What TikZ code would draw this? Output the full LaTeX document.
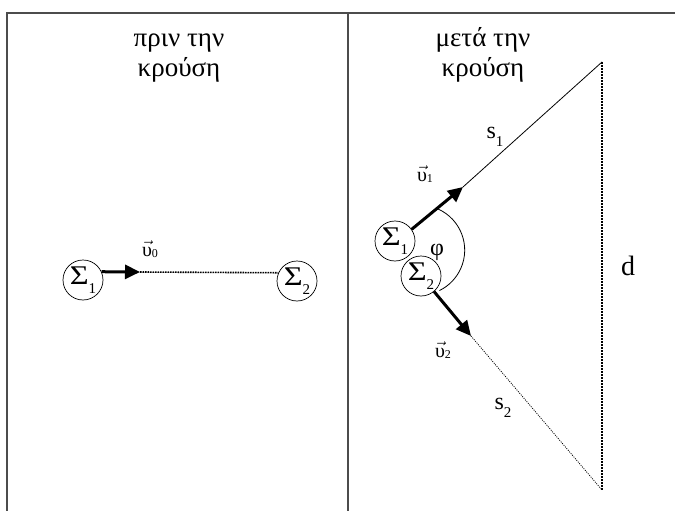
\documentclass[tikz,border=0pt]{standalone}
\usepackage{fontspec}
\setmainfont{Liberation Serif}
\usetikzlibrary{arrows.meta}
\tikzset{
  frame/.style={line width=1.3pt, draw=black!70},
  ball/.style={circle, draw, line width=0.7pt, minimum size=40pt, inner sep=0pt, font=\fontsize{27}{27}\selectfont},
  vel/.style={line width=3pt, -{Triangle[length=15pt,width=14pt]}},
  fine/.style={line width=0.8pt},
  dotline/.style={line width=1.6pt, dash pattern=on 1.6pt off 0.9pt},
  thindot/.style={line width=0.8pt, dash pattern=on 1pt off 1.2pt},
  thickdot/.style={line width=2pt, dash pattern=on 2pt off 1pt},
  title/.style={anchor=base, inner sep=0pt, font=\fontsize{27}{30}\selectfont},
  lab/.style={inner sep=0pt, font=\fontsize{20}{20}\selectfont},
  biglab/.style={inner sep=0pt, font=\fontsize{24}{24}\selectfont}
}
\newcommand{\sub}[1]{\raisebox{-0.33em}{\fontsize{15}{15}\selectfont #1}}
\newcommand{\Sig}{\scalebox{1.2}[1]{Σ}}
\newcommand{\vup}{\(\vec{\mbox{υ}}\)}
\newcommand{\vsub}[1]{\raisebox{-0.05em}{\fontsize{12}{12}\selectfont #1}}
\begin{document}
\begin{tikzpicture}[x=1pt,y=-1pt]
\useasboundingbox (0,0) rectangle (675,511);
% frame
\coordinate (tl) at (7,13);
\coordinate (tr) at (675,13);
\coordinate (bl) at (7,511);
\coordinate (tm) at (348,13);
\coordinate (bm) at (348,511);
\draw[frame] (bl) -- (tl) -- (tr);
\draw[frame] (tm) -- (bm);
% titles
\node[title] (t1a) at (179,47) {πριν την};
\node[title] (t1b) at (179,77) {κρούση};
\node[title] (t2a) at (483,47) {μετά την};
\node[title] (t2b) at (483,77) {κρούση};
% left panel
\node[ball] (L1) at (83,280) {\Sig\sub{1}};
\node[ball] (L2) at (297,281) {\Sig\sub{2}};
\coordinate (v0tip) at (140,272);
\draw[vel] (L1.24) -- (v0tip);
\draw[dotline] (v0tip) -- (L2.156);
\node[lab, anchor=base] (v0) at (150,256) {\vup\vsub{0}};
% right panel
\node[ball] (R1) at (395,241) {\Sig\sub{1}};
\node[ball] (R2) at (421,276) {\Sig\sub{2}};
\coordinate (tip1) at (463,187);
\coordinate (apex) at (602,62);
\coordinate (bot) at (602,490);
\coordinate (tip2) at (471,336);
\draw[vel] (R1.35) -- (tip1);
\draw[fine] (tip1) -- (apex);
\draw[thickdot] (apex) -- (bot);
\draw[vel] (R2.-50) -- (tip2);
\draw[thindot] (tip2) -- (bot);
\coordinate (a1) at (438,209);
\draw[fine] (a1) arc[start angle=-66, end angle=64, radius=45];
\node[lab, anchor=base] (v1) at (425,181) {\vup\vsub{1}};
\node[lab, anchor=base] (v2) at (443,357) {\vup\vsub{2}};
\node[biglab] (phi) at (437,252) {φ};
\node[biglab] (s1) at (495,137) {s\sub{1}};
\node[biglab] (s2) at (503,408) {s\sub{2}};
\node[biglab, font=\fontsize{28}{28}\selectfont] (d) at (628,266) {d};
\end{tikzpicture}
\end{document}
